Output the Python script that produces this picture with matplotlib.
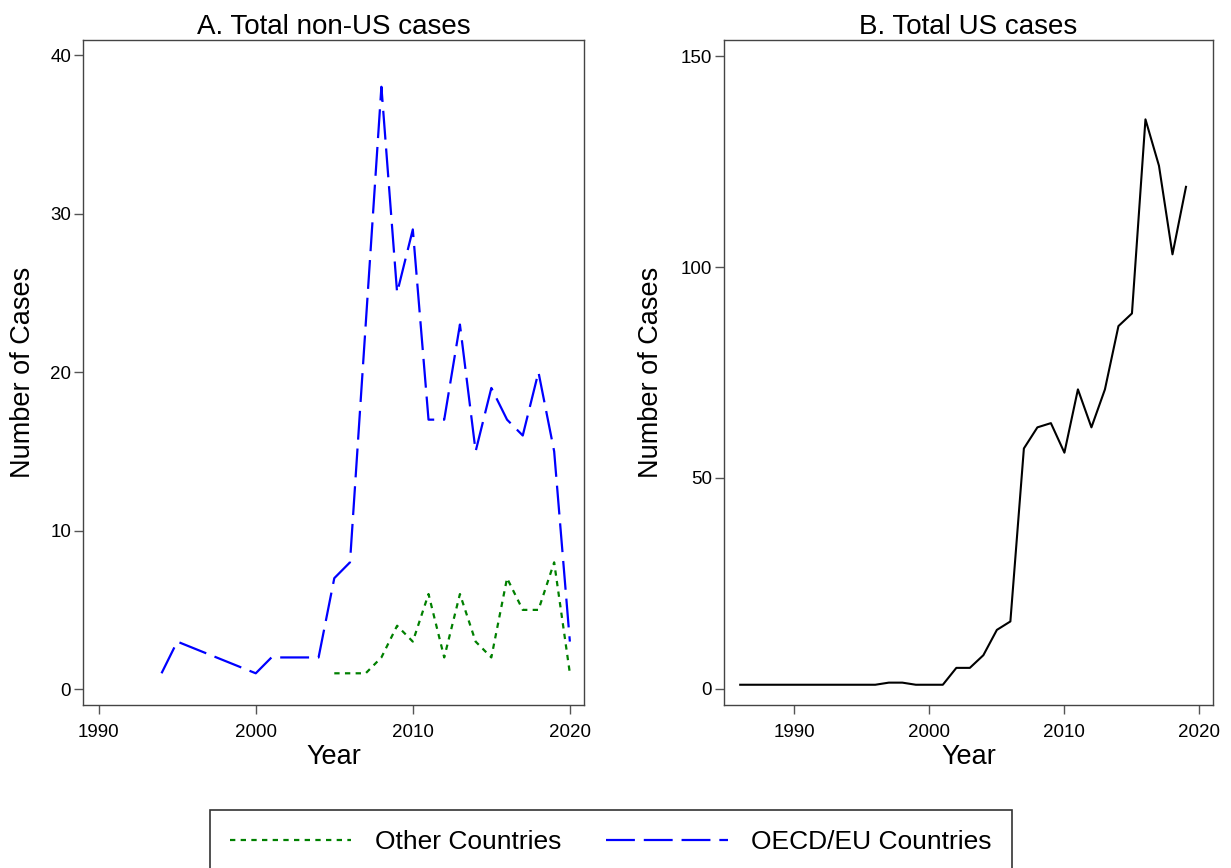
import matplotlib.pyplot as plt
from matplotlib.lines import Line2D

plt.rcParams['font.family'] = ['Liberation Sans', 'DejaVu Sans']

# Panel A: non-US cases by year
oecd_years = [1994, 1995, 2000, 2001, 2002, 2003, 2004, 2005, 2006, 2008,
              2009, 2010, 2011, 2012, 2013, 2014, 2015, 2016, 2017, 2018,
              2019, 2020]
oecd_cases = [1, 3, 1, 2, 2, 2, 2, 7, 8, 38,
              25, 29, 17, 17, 23, 15, 19, 17, 16, 20,
              15, 3]

other_years = [2005, 2006, 2007, 2008, 2009, 2010, 2011, 2012, 2013, 2014,
               2015, 2016, 2017, 2018, 2019, 2020]
other_cases = [1, 1, 1, 2, 4, 3, 6, 2, 6, 3,
               2, 7, 5, 5, 8, 1]

# Panel B: US cases by year
us_years = list(range(1986, 2020))
us_cases = [1, 1, 1, 1, 1, 1, 1, 1, 1, 1,
            1, 1.5, 1.5, 1, 1, 1, 5, 5, 8, 14,
            16, 57, 62, 63, 56, 71, 62, 71, 86, 89,
            135, 124, 103, 119]

W, H = 1231, 868
fig = plt.figure(figsize=(W / 100, H / 100), dpi=100)


def px_axes(x0, x1, y0, y1):
    # axes rectangle given in pixel edges (top-left origin)
    return fig.add_axes([x0 / W, 1 - y1 / H, (x1 - x0) / W, (y1 - y0) / H])


axA = px_axes(83, 584, 40, 705)
axB = px_axes(724, 1213, 40, 705)

green_line, = axA.plot(other_years, other_cases, color='#008000', lw=1.6,
                       dashes=(2.4, 2.4))
blue_line, = axA.plot(oecd_years, oecd_cases, color='#0000ff', lw=1.6,
                      dashes=(13, 4))
axB.plot(us_years, us_cases, color='black', lw=1.5)

axA.set_xlim(1989.0, 2020.9)
axA.set_ylim(-1.0, 40.95)
axA.set_xticks([1990, 2000, 2010, 2020])
axA.set_yticks([0, 10, 20, 30, 40])
axA.set_title('A. Total non-US cases', fontsize=20, pad=4)
axA.yaxis.set_label_coords(-0.12, 0.5)

axB.set_xlim(1984.8, 2021.0)
axB.set_ylim(-3.8, 153.8)
axB.set_xticks([1990, 2000, 2010, 2020])
axB.set_yticks([0, 50, 100, 150])
axB.set_title('B. Total US cases', fontsize=20, pad=4)
axB.yaxis.set_label_coords(-0.149, 0.5)

for ax in (axA, axB):
    ax.set_xlabel('Year', fontsize=19.5)
    ax.set_ylabel('Number of Cases', fontsize=19.5, va='center')
    ax.xaxis.set_label_coords(0.5, -0.058)
    ax.tick_params(direction='out', length=6.5, width=1, labelsize=13.5,
                   color='#555555')
    ax.tick_params(axis='x', pad=7)
    ax.tick_params(axis='y', pad=2)
    for sp in ax.spines.values():
        sp.set_color('#444444')
        sp.set_linewidth(1.0)

leg = fig.legend([green_line, blue_line], ['Other Countries', 'OECD/EU Countries'],
                 loc='upper left', bbox_to_anchor=(210 / W, 1 - 810 / H),
                 ncol=2, fontsize=19, frameon=True, fancybox=False,
                 handlelength=4.6, handletextpad=0.9, columnspacing=1.7,
                 borderpad=0.75, borderaxespad=0)
leg.get_frame().set_edgecolor('black')
leg.get_frame().set_linewidth(1.2)

fig.savefig('out.png', dpi=100)
